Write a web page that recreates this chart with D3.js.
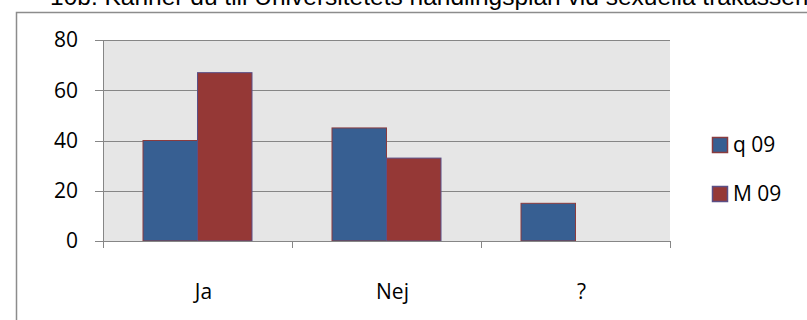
<!DOCTYPE html>
<html><head><meta charset="utf-8">
<script src="https://cdn.jsdelivr.net/npm/d3@7"></script>
<style>body{margin:0;background:#fff;} svg{display:block;}</style>
</head><body>
<svg id="c" width="807" height="320"></svg>
<script>
const titleText = "10b. Känner du till Universitetets handlingsplan vid sexuella trakasserier?";
const categories = ["Ja", "Nej", "?"];
const seriesNames = ["q 09", "M 09"];
const q09 = [40, 45, 15];
const m09 = [67, 33, 0];
const yTicks = [0, 20, 40, 60, 80];
const colors = ["#375f92", "#953836"];
const strokes = ["#8a3b3e", "#5b4f86"];

(function(){
const svg = d3.select("#c");
const font = "'Open Sans', 'Noto Sans', sans-serif";

// title (cut off at top, as in the reference)
svg.append("text").attr("x", 50).attr("y", 5)
  .attr("font-family", "'Liberation Sans', Arial, sans-serif").attr("font-size", 24.5)
  .attr("fill", "#000").text(titleText);

// frame
svg.append("rect").attr("x", 16.5).attr("y", 12.5).attr("width", 830).attr("height", 330)
  .attr("fill", "none").attr("stroke", "#8c8c8c").attr("stroke-width", 1.5);

const pL = 103, pR = 670, pT = 40, pB = 241;
const x0 = d3.scaleBand().domain(categories).range([pL, pR]).padding(0);
const x1 = d3.scaleBand().domain(seriesNames).range([40, 149]).padding(0);
const y = d3.scaleLinear().domain([0, 80]).range([pB, pT]);

svg.append("rect").attr("x", pL).attr("y", pT).attr("width", pR - pL).attr("height", pB - pT)
  .attr("fill", "#e6e6e6");

// gridlines
svg.append("g").selectAll("line").data(yTicks).join("line")
  .attr("x1", 95).attr("x2", pR).attr("y1", d => Math.round(y(d)) + 0.5).attr("y2", d => Math.round(y(d)) + 0.5)
  .attr("stroke", "#868686").attr("stroke-width", 1);

// bars
const data = categories.map((c, i) => ({c, vals: [q09[i], m09[i]]}));
const g = svg.append("g").selectAll("g").data(data).join("g")
  .attr("transform", d => `translate(${x0(d.c)},0)`);
g.selectAll("rect").data(d => d.vals.map((v, j) => ({v, s: seriesNames[j], j})).filter(e => e.v > 0))
  .join("rect")
  .attr("x", e => x1(e.s)).attr("width", x1.bandwidth())
  .attr("y", e => y(e.v)).attr("height", e => y(0) - y(e.v))
  .attr("fill", e => colors[e.j]).attr("stroke", e => strokes[e.j]).attr("stroke-width", 1);

// y axis line
svg.append("line").attr("x1", pL + 0.5).attr("x2", pL + 0.5).attr("y1", pT).attr("y2", pB + 7)
  .attr("stroke", "#868686");
// x axis line
svg.append("line").attr("x1", 95).attr("x2", pR).attr("y1", Math.round(y(0)) + 0.5).attr("y2", Math.round(y(0)) + 0.5)
  .attr("stroke", "#868686");
// x ticks
const xt = categories.map(c => x0(c)).concat([pR]);
svg.append("g").selectAll("line").data(xt).join("line")
  .attr("x1", d => Math.round(d) + 0.5).attr("x2", d => Math.round(d) + 0.5)
  .attr("y1", pB).attr("y2", pB + 7).attr("stroke", "#868686");

// y labels
svg.append("g").selectAll("text").data(yTicks).join("text")
  .attr("x", 78).attr("y", d => y(d)).attr("dy", "0.35em").attr("text-anchor", "end")
  .attr("font-family", font).attr("font-size", 21).attr("fill", "#000").text(d => d);

// x labels
svg.append("g").selectAll("text").data(categories).join("text")
  .attr("x", d => x0(d) + x0.bandwidth() / 2 + 6).attr("y", 292).attr("dy", "0.35em").attr("text-anchor", "middle")
  .attr("font-family", font).attr("font-size", 21).attr("fill", "#000").text(d => d);

// legend
const lg = svg.append("g").selectAll("g").data(seriesNames).join("g")
  .attr("transform", (d, i) => `translate(712,${137 + i * 49})`);
lg.append("rect").attr("x", 0.5).attr("y", 0.5).attr("width", 15).attr("height", 15)
  .attr("fill", (d, i) => colors[i]).attr("stroke", (d, i) => strokes[i]).attr("stroke-width", 1.5);
lg.append("text").attr("x", 21).attr("y", 8).attr("dy", "0.35em")
  .attr("font-family", font).attr("font-size", 21).attr("fill", "#000").text(d => d);
})();
</script>
</body></html>
